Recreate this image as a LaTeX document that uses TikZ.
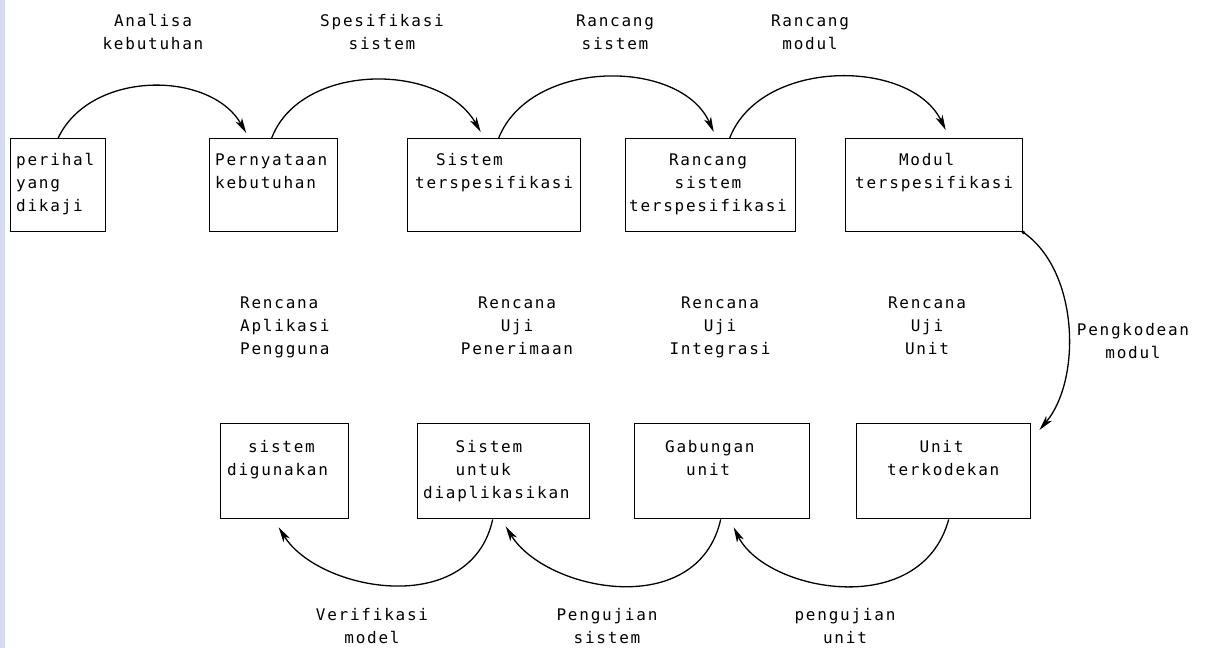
\documentclass[tikz,border=0pt]{standalone}
\usepackage{fontspec}
\usetikzlibrary{arrows.meta}
\newfontfamily\boxmono[LetterSpace=11]{DejaVu Sans Mono}
\newcommand\fstrut{\rule{0pt}{12.5pt}}
\definecolor{edgestrip}{RGB}{214,218,238}
\begin{document}
\begin{tikzpicture}[x=1pt,y=-1pt,
  stepbox/.style={draw, line width=1.4pt, inner sep=0pt, anchor=north west},
  boxtext/.style={inner sep=0pt, align=left, anchor=north west,
    font=\boxmono\fontsize{16}{23}\selectfont},
  boxtextc/.style={boxtext, align=center, anchor=north},
  lbl/.style={boxtextc},
  lblleft/.style={boxtext},
  flow/.style={line width=1.3pt,
    -{Stealth[length=15pt, width=7.5pt, inset=4pt]}}
]
\useasboundingbox (0,0) rectangle (1208,648);
\fill[white] (0,0) rectangle (1208,648);
\fill[edgestrip] (0,0) rectangle (5,648);

% top row of stages
\node[stepbox, minimum width=95pt,  minimum height=93pt] (b1) at (10,138) {};
\node[stepbox, minimum width=128pt, minimum height=93pt] (b2) at (209,138) {};
\node[stepbox, minimum width=173pt, minimum height=93pt] (b3) at (407,138) {};
\node[stepbox, minimum width=170pt, minimum height=93pt] (b4) at (625,138) {};
\node[stepbox, minimum width=177pt, minimum height=93pt] (b5) at (845,138) {};
% bottom row of stages
\node[stepbox, minimum width=128pt, minimum height=95pt] (b6) at (220,423) {};
\node[stepbox, minimum width=172pt, minimum height=95pt] (b7) at (417,423) {};
\node[stepbox, minimum width=175pt, minimum height=95pt] (b8) at (634,423) {};
\node[stepbox, minimum width=174pt, minimum height=95pt] (b9) at (856,423) {};

% texts inside the stages
\node[boxtext] (t1) at (16,152.5) {\fstrut perihal\\yang\\dikaji};
\node[boxtext] (t2) at (215,152.5) {\fstrut Pernyataan\\kebutuhan};
\node[boxtext] (t3) at (415,152.5) {\fstrut\phantom{xx}Sistem\\terspesifikasi};
\node[boxtextc] (t4) at (708,152.5) {\fstrut Rancang\\sistem\\terspesifikasi};
\node[boxtext] (t5) at (855,152.5) {\fstrut\phantom{xxxx}Modul\\terspesifikasi};
\node[boxtext] (t6) at (227,439.5) {\fstrut\phantom{xx}sistem\\digunakan};
\node[boxtext] (t7) at (423,439.5) {\fstrut\phantom{xxx}Sistem\\\phantom{xxx}untuk\\diaplikasikan};
\node[boxtext] (t8) at (665,439.5) {\fstrut Gabungan\\\phantom{xx}unit};
\node[boxtext] (t9) at (887,439.5) {\fstrut\phantom{xxx}Unit\\terkodekan};

% plans between the rows
\node[lblleft] (r1) at (240,295.5) {\fstrut Rencana\\Aplikasi\\Pengguna};
\node[lbl] (r2) at (517,295.5) {\fstrut Rencana\\Uji\\Penerimaan};
\node[lbl] (r3) at (720,295.5) {\fstrut Rencana\\Uji\\Integrasi};
\node[lbl] (r4) at (927,295.5) {\fstrut Rencana\\Uji\\Unit};

% activity labels
\node[lbl] (l1) at (153,13.5) {\fstrut Analisa\\kebutuhan};
\node[lbl] (l2) at (382,13.5) {\fstrut Spesifikasi\\sistem};
\node[lbl] (l3) at (615,13.5) {\fstrut Rancang\\sistem};
\node[lbl] (l4) at (810,13.5) {\fstrut Rancang\\modul};
\node[lbl] (l5) at (1133,322.5) {\fstrut Pengkodean\\modul};
\node[lbl] (l6) at (372,607.5) {\fstrut Verifikasi\\model};
\node[lbl] (l7) at (607,607.5) {\fstrut Pengujian\\sistem};
\node[lbl] (l8) at (845,607.5) {\fstrut pengujian\\unit};

% forward arcs along the top
\draw[flow] (b1.north) .. controls +(32,-68) and +(-36,-63) .. ([xshift=-27.5pt,yshift=5pt]b2.north);
\draw[flow] ([xshift=-2pt]b2.north) .. controls +(29,-76) and +(-40,-70) .. ([xshift=-13.5pt,yshift=6pt]b3.north);
\draw[flow] ([xshift=4.5pt]b3.north) .. controls +(32,-80) and +(-33,-74) .. ([xshift=3pt,yshift=6pt]b4.north);
\draw[flow] ([xshift=19pt]b4.north) .. controls +(31,-80) and +(-35,-72) .. ([xshift=11.5pt,yshift=8pt]b5.north);
% coding step down the right side
\fill (b5.south east) circle (1.8pt);
\draw[flow] (b5.south east) .. controls +(56,39) and +(42,-50) .. ([xshift=8pt,yshift=-7pt]b9.north east);
% testing arcs along the bottom
\draw[flow] ([xshift=5pt]b9.south) .. controls +(-28,102) and +(32,64) .. ([xshift=11.5pt,yshift=-8pt]b8.south);
\draw[flow] ([xshift=-1.5pt]b8.south) .. controls +(-23,102) and +(40,65) .. ([xshift=2pt,yshift=-7pt]b7.south);
\draw[flow] ([xshift=-11pt]b7.south) .. controls +(-22,100) and +(40,64) .. ([xshift=-6pt,yshift=-8pt]b6.south);
\end{tikzpicture}
\end{document}
